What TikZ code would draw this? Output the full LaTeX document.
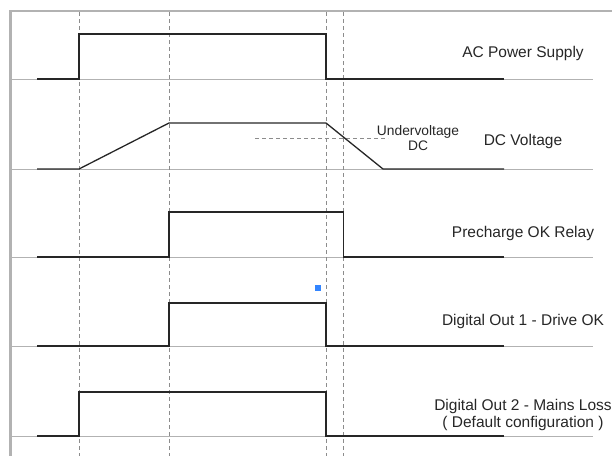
\documentclass[tikz,border=0pt]{standalone}
\usepackage{fontspec}
\setmainfont{Liberation Sans}
\usetikzlibrary{positioning}

\begin{document}
\begin{tikzpicture}[x=1pt, y=-1pt,
    every node/.style={font=\fontsize{15.5}{16.6}\selectfont, text=black!85, inner sep=0pt, align=center},
    frame/.style={draw=black!30},
    baseline/.style={draw=black!30, line width=0.9pt},
    guide/.style={draw=black!45, line width=0.8pt, dash pattern=on 4pt off 3pt},
    signal/.style={draw=black!85, line width=1.3pt}]
    \useasboundingbox (0,0) rectangle (612,456);
    % frame
    \draw[frame, line width=1.8pt] (9,11) -- (612,11);
    \draw[frame, line width=3.6pt] (10.5,10) -- (10.5,456);
    % baselines and time marks
    \foreach \y in {79,169,257,346,436}
        \draw[baseline] (11,\y) -- (593,\y);
    \foreach \x in {79,169,326.5,343.5}
        \draw[guide] (\x,12) -- (\x,456);
    % undervoltage level
    \draw[guide] (255,138) -- (388,138);
    % AC power supply
    \draw[signal] (37,79) -- (79,79) -- (79,34) -- (326,34) -- (326,79) -- (504,79);
    % DC voltage
    \draw[signal] (37,169) -- (79,169) -- (169,123) -- (326,123) -- (383,169) -- (504,169);
    % precharge relay
    \draw[signal] (37,257) -- (169,257) -- (169,212) -- (343.5,212) -- (343.5,257) -- (504,257);
    % digital out 1
    \draw[signal] (37,346) -- (169,346) -- (169,303) -- (326,303) -- (326,346) -- (504,346);
    % digital out 2
    \draw[signal] (37,436) -- (79,436) -- (79,392) -- (326,392) -- (326,436) -- (504,436);
    % labels
    \node (ac) at (523,53) {AC Power Supply};
    \node (dc) at (523,141) {DC Voltage};
    \node[font=\fontsize{13.8}{15.7}\selectfont] (uv) at (418,138) {Undervoltage\\DC};
    \node (pre) at (523,233) {Precharge OK Relay};
    \node (do1) at (523,321.5) {Digital Out 1 - Drive OK};
    \node (do2) at (523,415) {Digital Out 2 - Mains Loss\\( Default configuration )};
    % marker
    \fill[blue!60!cyan!80] (314.7,285) rectangle (320.7,291);
\end{tikzpicture}
\end{document}
